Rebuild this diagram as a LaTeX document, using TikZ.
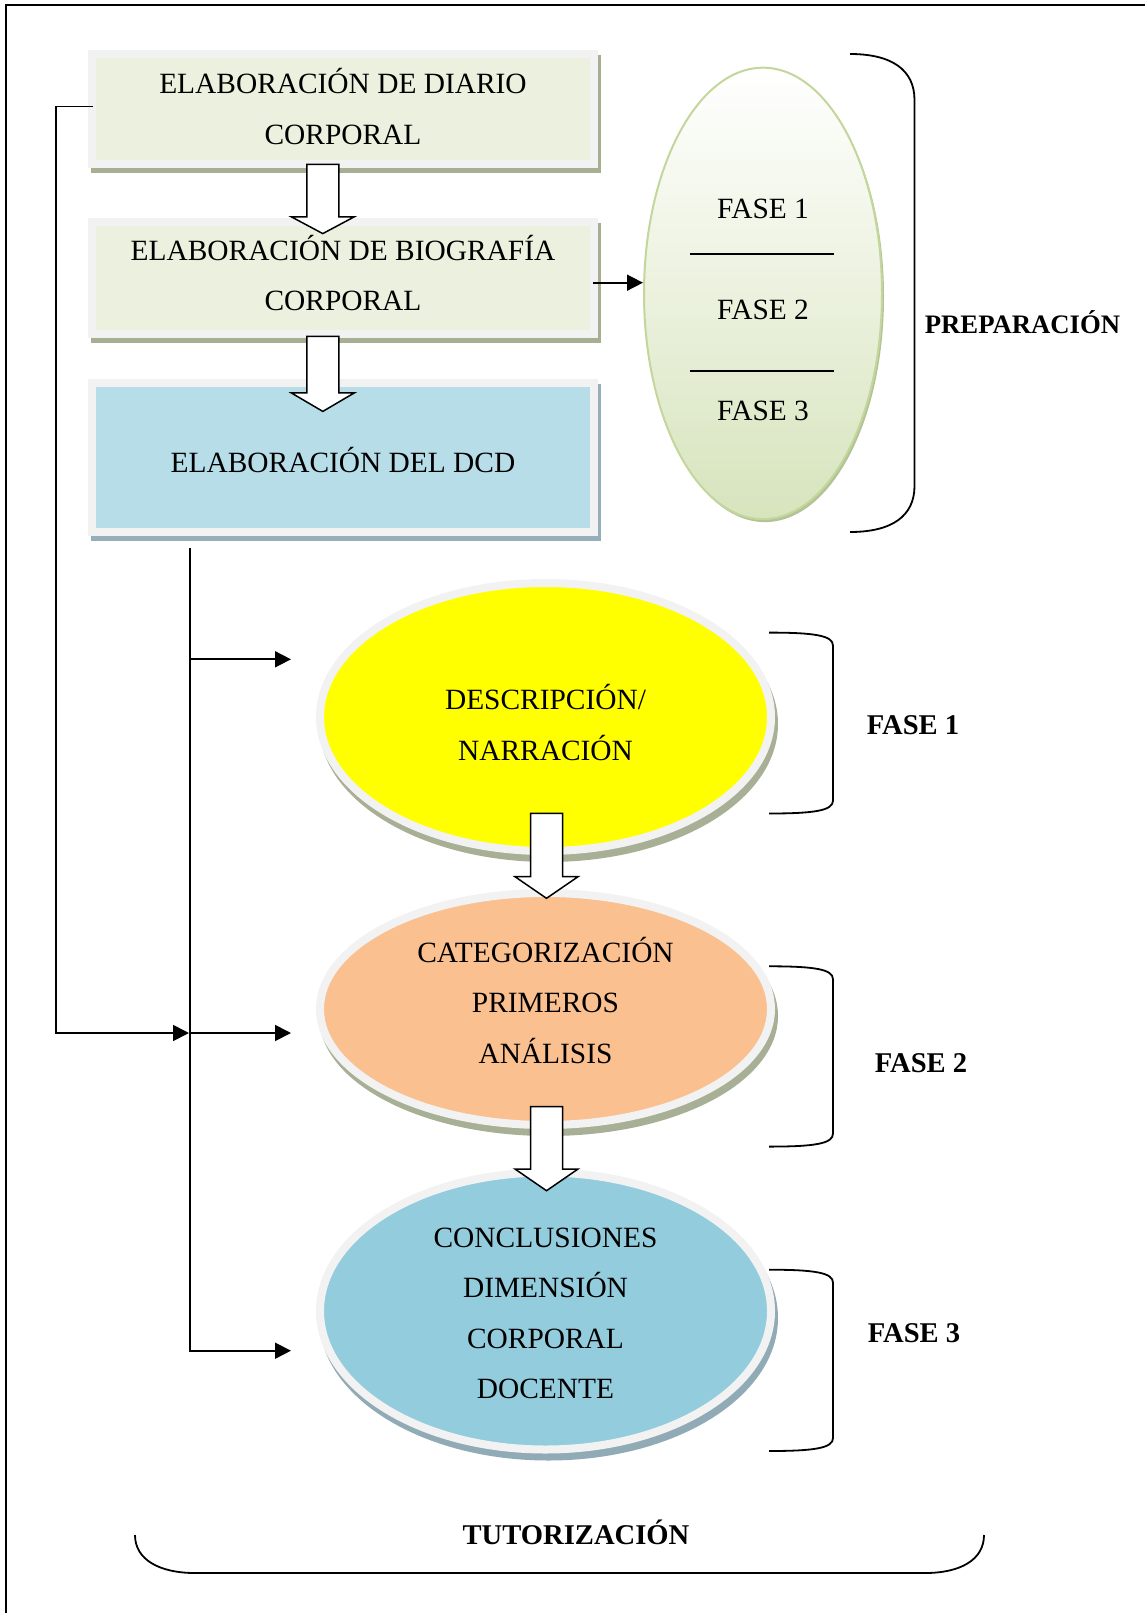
\documentclass[tikz,border=0pt]{standalone}
\usepackage{fontspec}
\setmainfont{Liberation Serif}
\usetikzlibrary{arrows.meta,shapes.geometric,shadows}

\definecolor{boxgreen}{HTML}{EBF1DE}
\definecolor{ringgray}{HTML}{F2F2F2}
\definecolor{boxshade}{HTML}{A6AF92}
\definecolor{dcdblue}{HTML}{B7DEE8}
\definecolor{dcdshade}{HTML}{95AEBA}
\definecolor{prepgreen}{HTML}{D7E4BD}
\definecolor{prepedge}{HTML}{C3D69B}
\definecolor{prepshade}{HTML}{B3C297}
\definecolor{descyellow}{HTML}{FFFF00}
\definecolor{catorange}{HTML}{FAC090}
\definecolor{conclblue}{HTML}{93CDDD}
\definecolor{ovalshade}{HTML}{A7AF94}
\definecolor{conclshade}{HTML}{90ABB6}

\newcommand{\regfont}{\fontsize{29.4}{50.5}\selectfont}
\newcommand{\labfont}{\fontsize{28.6}{34}\selectfont\bfseries}

% x, top, neck, tip
\newcommand{\bigarrow}[4]{%
  \draw[blockarrow] ({#1-16},#2) -- ({#1+16},#2) -- ({#1+16},#3) -- ({#1+31.5},#3)
    -- (#1,#4) -- ({#1-31.5},#3) -- ({#1-16},#3) -- cycle;}

\tikzset{
  stepbox/.style={rectangle, draw=ringgray, line width=8pt, minimum width=502pt, inner sep=0pt},
  boxshadow/.style={general shadow={fill=#1, draw=#1, line width=8pt, shadow xshift=3pt, shadow yshift=-5pt}},
  oval/.style={ellipse, draw=ringgray, line width=8pt, minimum width=451pt, inner sep=0pt},
  ovalshadow/.style={general shadow={fill=#1, draw=#1, line width=8pt, shadow xshift=3pt, shadow yshift=-7pt}},
  txt/.style={align=center, font=\regfont, inner sep=0pt},
  lab/.style={font=\labfont, inner sep=0pt, anchor=base},
  arr/.style={-{Triangle[length=16pt,width=16pt]}, line width=1.7pt},
  blockarrow/.style={draw=black, fill=white, line width=1.5pt, line join=miter},
  brace/.style={line width=1.8pt},
}

\begin{document}
\begin{tikzpicture}[x=1pt, y=-1pt]
  \useasboundingbox (0,0) rectangle (1145,1613);

  \draw[line width=2pt] (6,1613) -- (6,5) -- (1145,5);

  % boxes on the left
  \node[stepbox, fill=boxgreen, minimum height=110pt, boxshadow=boxshade] (diario) at (343,109) {};
  \node[stepbox, fill=boxgreen, minimum height=112pt, boxshadow=boxshade] (biografia) at (343,278) {};
  \node[stepbox, fill=dcdblue, minimum height=149pt, boxshadow=dcdshade] (dcd) at (343,457.2) {};

  \node[txt] (diariotxt) at (343,106.4) {ELABORACIÓN DE DIARIO\\CORPORAL};
  \node[txt] (biografiatxt) at (343,273) {ELABORACIÓN DE BIOGRAFÍA\\CORPORAL};
  \node[txt] (dcdtxt) at (343,460) {ELABORACIÓN DEL DCD};

  % preparation oval
  \node[ellipse, minimum width=238pt, minimum height=451.4pt, inner sep=0pt, draw=prepedge, line width=2pt,
        top color=white, bottom color=prepgreen,
        general shadow={fill=prepshade, shadow xshift=2pt, shadow yshift=-3pt}] (prep) at (763,293.4) {};
  \node[txt, anchor=base] (fase1txt) at (763,219) {FASE 1};
  \node[txt, anchor=base] (fase2txt) at (763,319.3) {FASE 2};
  \node[txt, anchor=base] (fase3txt) at (763,420.7) {FASE 3};
  \draw[line width=2pt] (690,254) -- (834,254);
  \draw[line width=2pt] (690,370.7) -- (834,370.7);

  % phase ovals
  \node[oval, fill=descyellow, minimum height=268pt, ovalshadow=ovalshade] (desc) at (545.5,717) {};
  \node[oval, fill=catorange, minimum height=232pt, ovalshadow=ovalshade] (cat) at (545.5,1009) {};
  \node[oval, fill=conclblue, minimum height=277pt, ovalshadow=conclshade] (concl) at (545.5,1311) {};

  \node[txt] (desctxt) at (545.5,722.6) {DESCRIPCIÓN/\\NARRACIÓN};
  \node[txt] (cattxt) at (545.5,1000.1) {CATEGORIZACIÓN\\PRIMEROS\\ANÁLISIS};
  \node[txt] (concltxt) at (545.5,1313.3) {CONCLUSIONES\\DIMENSIÓN\\CORPORAL\\DOCENTE};

  % block arrows
  \bigarrow{322.8}{164.5}{216.8}{233.6}
  \bigarrow{322.8}{336.4}{392.9}{411.4}
  \bigarrow{546.5}{813.3}{876.7}{898.3}
  \bigarrow{546.5}{1106.6}{1169}{1190.7}

  % connectors
  \coordinate (dcdout) at (190,548);
  \coordinate (descin) at (291,659.3);
  \coordinate (catin) at (291,1033);
  \coordinate (conclin) at (291,1350.7);

  \draw[arr] ([xshift=-5pt,yshift=-4.7pt]biografia.east) -- ([yshift=-4.7pt]biografia.east -| prep.west);
  \draw[arr] ([xshift=5pt,yshift=2.5pt]diario.west) -- ++(-37.3,0) |- ([xshift=-1pt]dcdout |- catin);
  \draw[arr] (dcdout) |- (conclin);
  \draw[arr] (dcdout |- descin) -- (descin);
  \draw[arr] (dcdout |- catin) -- (catin);

  % braces
  \draw[brace] (850,54) .. controls (892,54) and (914.5,70) .. (914.5,100) -- (914.5,486)
    .. controls (914.5,516) and (892,532) .. (850,532);
  \foreach \ya/\yb in {632.6/813.5, 966.3/1146.6, 1269.7/1451}
    \draw[brace] (769,\ya) .. controls (815,\ya) and (833,\ya+3) .. (833,\ya+13) -- (833,\yb-13)
      .. controls (833,\yb-3) and (815,\yb) .. (769,\yb);
  \draw[brace] (135,1535) .. controls (135,1560) and (160,1573) .. (195,1573) -- (925,1573)
    .. controls (960,1573) and (984,1560) .. (984,1535);

  % labels
  \node[lab, font=\fontsize{26.7}{32}\selectfont\bfseries] (preplab) at (1022.5,333.3) {PREPARACIÓN};
  \node[lab] (fase1lab) at (913,734.8) {FASE 1};
  \node[lab] (fase2lab) at (921,1072) {FASE 2};
  \node[lab] (fase3lab) at (914,1342.7) {FASE 3};
  \node[lab] (tutlab) at (576,1544) {TUTORIZACIÓN};
\end{tikzpicture}
\end{document}
